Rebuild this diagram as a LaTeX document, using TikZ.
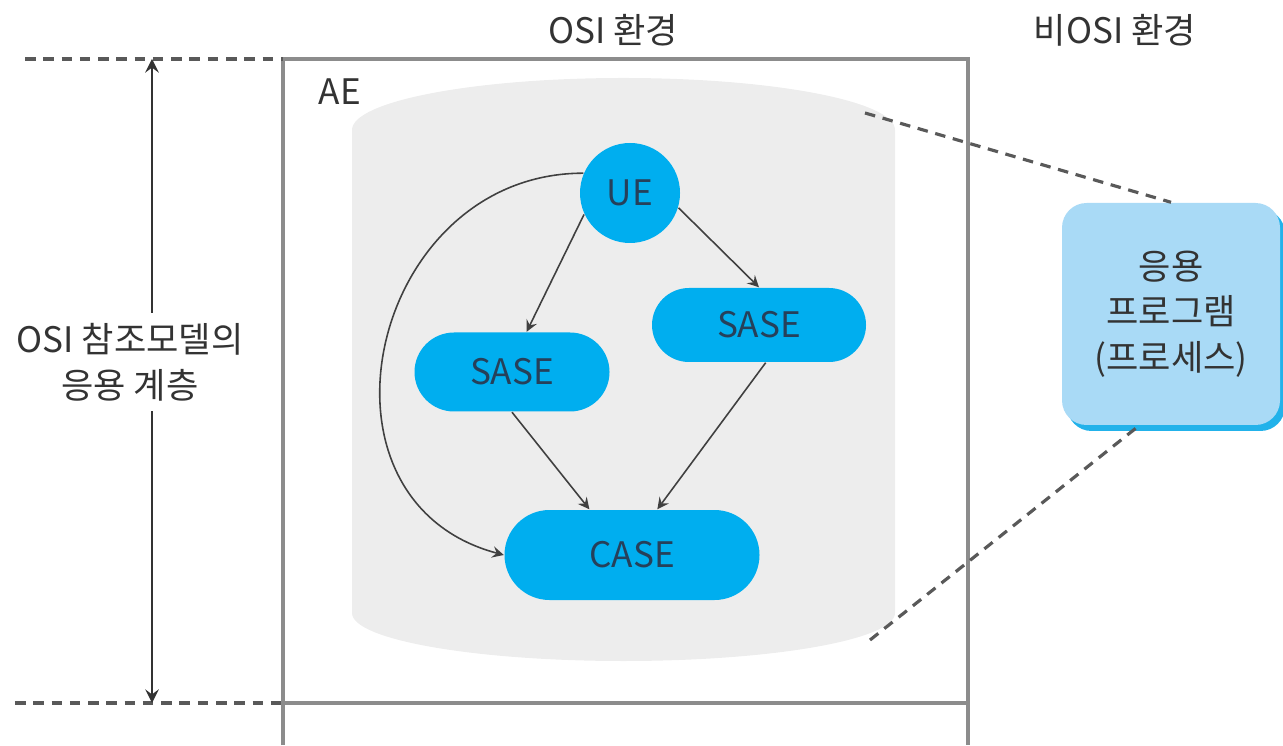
\documentclass[tikz,border=0pt]{standalone}
\usepackage{fontspec}
\setmainfont{Noto Sans CJK KR}
\usetikzlibrary{shapes.misc,shadows}
\definecolor{boxline}{HTML}{8C8C8C}
\definecolor{aegray}{HTML}{EDEDED}
\definecolor{asecyan}{HTML}{00AEEF}
\definecolor{appblue}{HTML}{A9DAF6}
\definecolor{appedge}{HTML}{22B2EA}
\definecolor{labeltext}{HTML}{333333}
\definecolor{asetext}{HTML}{26405A}
\begin{document}
\begin{tikzpicture}[>=stealth, font=\fontsize{10}{13}\selectfont,
    label/.style={text=labeltext, inner sep=1pt},
    ase/.style={fill=asecyan, text=asetext, rounded rectangle, inner sep=0pt},
    flow/.style={->, draw=black!75, line width=0.45pt},
    guide/.style={draw=black!65, dashed, dash pattern=on 3pt off 2.2pt, line width=0.9pt}]
    \useasboundingbox (0,0) rectangle (12.83,7.45);
    % AE background
    \fill[aegray] (3.52,6.15) arc[start angle=180, end angle=0, x radius=2.715cm, y radius=0.52cm]
        -- (8.95,1.32) arc[start angle=0, end angle=-180, x radius=2.715cm, y radius=0.48cm] -- cycle;
    % Outer box of the OSI side
    \draw[boxline, line width=0.9pt] (2.83,0) -- (2.83,6.86) -- (9.68,6.86) -- (9.68,0);
    \draw[boxline, line width=0.9pt] (2.83,0.42) -- (9.68,0.42);
    % Dashed guides on the left
    \coordinate (guidetop) at (0.25,6.86);
    \coordinate (guidebot) at (0.15,0.42);
    \draw[guide] (guidetop) -- (2.83,6.86);
    \draw[guide] (guidebot) -- (2.83,0.42);
    % Layer height arrow
    \coordinate (layertop) at (1.52,6.86);
    \coordinate (layerbot) at (1.52,0.42);
    \draw[<->, line width=0.7pt, black!80] (layertop) -- (layerbot);
    \node[label, fill=white, align=center, inner sep=3pt] (layer) at (1.30,3.83) {OSI 참조모델의\\응용 계층};
    % Titles
    \node[label] (osi) at (6.13,7.15) {OSI 환경};
    \node[label] (nonosi) at (11.15,7.15) {비OSI 환경};
    \node[label] (ae) at (3.40,6.53) {AE};
    % Elements
    \node[ase, circle, minimum size=1cm] (ue) at (6.30,5.52) {UE};
    \node[ase, minimum width=1.95cm, minimum height=0.79cm] (sasel) at (5.12,3.73) {SASE};
    \node[ase, minimum width=2.14cm, minimum height=0.74cm] (saser) at (7.59,4.20) {SASE};
    \node[ase, minimum width=2.55cm, minimum height=0.90cm] (case) at (6.32,1.90) {CASE};
    % Connectors
    \draw[flow] (ue.205) -- (sasel.70);
    \draw[flow] (ue.-17) -- (saser.north);
    \draw[flow] (sasel.south) -- (case.133);
    \draw[flow] (saser.-80) -- (case.61);
    \draw[flow] (ue.157) to[out=180, in=165, looseness=1.4] (case.west);
    % Application process outside OSI
    \node[fill=appblue, rounded corners=7pt, minimum width=2.18cm, minimum height=2.22cm,
        align=center, text=labeltext,
        drop shadow={shadow xshift=0.5mm, shadow yshift=-0.6mm, fill=appedge, opacity=1}]
        (app) at (11.71,4.31) {응용\\프로그램\\(프로세스)};
    \coordinate (aetop) at (8.65,6.32);
    \coordinate (aebot) at (8.70,1.05);
    \draw[guide] (aetop) -- (app.north);
    \draw[guide] (aebot) -- (app.254);
\end{tikzpicture}
\end{document}
